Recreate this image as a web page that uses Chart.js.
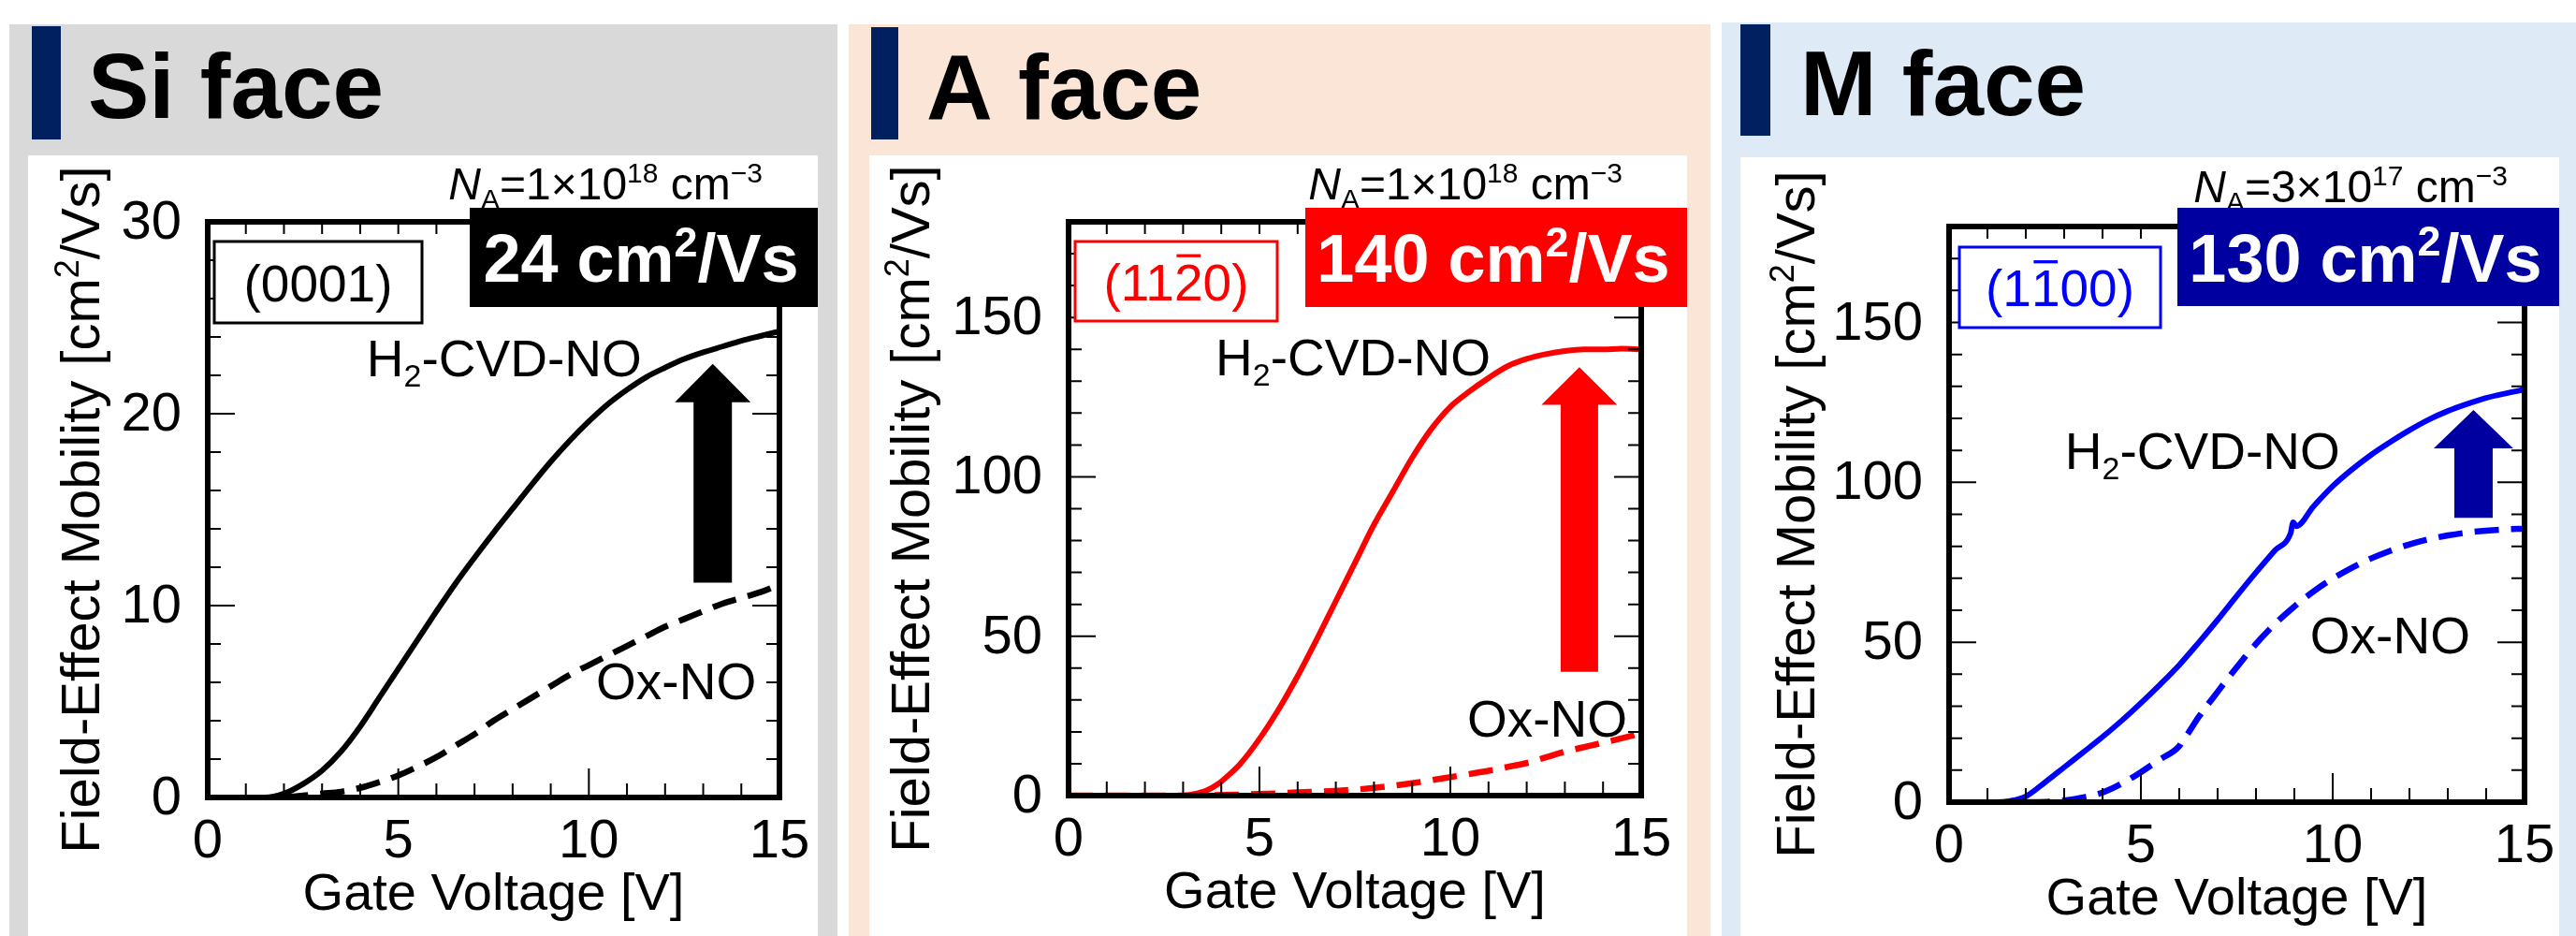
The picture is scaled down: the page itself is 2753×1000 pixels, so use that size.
<!DOCTYPE html>
<html>
<head>
<meta charset="utf-8">
<script src="https://cdn.jsdelivr.net/npm/chart.js@4.4.1/dist/chart.umd.min.js"></script>
<style>
  body { margin: 0; background: #ffffff; width: 2753px; height: 1000px; overflow: hidden; }
  canvas { position: absolute; top: 0; }
</style>
</head>
<body>
<canvas id="siChart" width="901" height="1000" style="left:0px"></canvas>
<canvas id="aChart" width="933" height="1000" style="left:901px"></canvas>
<canvas id="mChart" width="919" height="1000" style="left:1834px"></canvas>
<script>
// ---- data (gate voltage [V] / mobility [cm2/Vs]) ----
const siH2Vg = [0, 1.5, 2.0, 2.5, 3.0, 3.5, 4.0, 4.5, 5.0, 5.5, 6.0, 6.5, 7.0, 7.5, 8.0, 8.5, 9.0, 9.5, 10.0, 10.5, 11.0, 11.5, 12.0, 12.5, 13.0, 13.5, 14.0, 14.5, 15.0];
const siH2Mu = [0, 0, 0.2, 0.7, 1.4, 2.4, 3.7, 5.2, 6.7, 8.2, 9.7, 11.15, 12.5, 13.8, 15.05, 16.3, 17.5, 18.6, 19.6, 20.5, 21.25, 21.9, 22.4, 22.85, 23.2, 23.5, 23.8, 24.05, 24.3];
const siOxVg = [2.0, 2.5, 3.0, 3.5, 4.0, 4.5, 5.0, 5.5, 6.0, 6.5, 7.0, 7.5, 8.0, 8.5, 9.0, 9.5, 10.0, 10.5, 11.0, 11.5, 12.0, 12.5, 13.0, 13.5, 14.0, 14.5, 15.0];
const siOxMu = [0, 0.1, 0.2, 0.3, 0.5, 0.8, 1.15, 1.6, 2.1, 2.7, 3.3, 4.0, 4.6, 5.2, 5.8, 6.4, 6.9, 7.4, 7.9, 8.4, 8.9, 9.3, 9.7, 10.1, 10.4, 10.7, 11.1];

const aH2Vg = [0, 3.0, 3.3, 3.6, 3.9, 4.2, 4.5, 5.0, 5.5, 6.0, 6.5, 7.0, 7.5, 8.0, 8.5, 9.0, 9.5, 10.0, 10.5, 11.0, 11.5, 12.0, 12.5, 13.0, 13.5, 14.0, 14.5, 15.0];
const aH2Mu = [0, 0, 0.5, 1.5, 3.5, 6.5, 10.0, 17.8, 27.0, 37.5, 49.0, 61.0, 73.0, 85.0, 95.5, 106.0, 115.0, 122.0, 126.8, 131.0, 134.7, 137.0, 138.5, 139.5, 140.0, 140.0, 140.2, 140.0];
const aOxVg = [0, 3.0, 4.0, 5.0, 6.0, 7.0, 8.0, 9.0, 10.0, 10.5, 11.0, 11.5, 12.0, 12.5, 13.0, 13.5, 14.0, 14.5, 15.0];
const aOxMu = [0, 0, 0.2, 0.5, 1.0, 1.5, 2.4, 3.9, 5.8, 6.8, 7.8, 9.0, 10.2, 12.0, 13.8, 15.2, 16.6, 18.0, 19.5];

const mH2Vg = [0, 1.2, 1.6, 2.0, 2.5, 3.0, 3.5, 4.0, 4.5, 5.0, 5.5, 6.0, 6.5, 7.0, 7.5, 8.0, 8.5, 8.9, 8.97, 9.05, 9.5, 10.0, 10.5, 11.0, 11.5, 12.0, 12.5, 13.0, 13.5, 14.0, 14.5, 15.0];
const mH2Mu = [0, 0, 0.4, 1.8, 6.2, 10.9, 15.6, 20.4, 25.5, 31.0, 36.8, 42.9, 49.8, 57.0, 64.5, 71.8, 78.8, 84.0, 87.5, 86.3, 92.5, 98.8, 104.0, 108.6, 112.6, 116.3, 119.6, 122.3, 124.5, 126.4, 127.8, 129.0];
const mOxVg = [2.0, 2.5, 3.0, 3.5, 4.0, 4.5, 5.0, 5.5, 6.0, 6.1, 6.2, 6.5, 7.0, 7.5, 8.0, 8.5, 9.0, 9.5, 10.0, 10.5, 11.0, 11.5, 12.0, 12.5, 13.0, 13.5, 14.0, 14.5, 15.0];
const mOxMu = [0, 0.1, 0.5, 1.5, 3.0, 5.8, 9.4, 13.4, 17.5, 19.5, 21.0, 26.5, 34.5, 42.2, 49.5, 55.8, 61.2, 65.9, 69.9, 73.3, 76.2, 78.6, 80.6, 82.2, 83.4, 84.3, 84.9, 85.3, 85.5];

// ticks and labels
const xTicks = [0, 5, 10, 15];
const siYTicks = [0, 10, 20, 30];
const aYTicks = [0, 50, 100, 150];
const mYTicks = [0, 50, 100, 150];
const faceNames = ['Si face', 'A face', 'M face'];
const peakValues = ['24', '140', '130'];
const dopings = [['1', '18'], ['1', '18'], ['3', '17']];
const planes = [
  [{ t: '(0001)' }],
  [{ t: '(11' }, { t: '2', over: true }, { t: '0)' }],
  [{ t: '(1' }, { t: '1', over: true }, { t: '00)' }]
];

const FONT = '"Liberation Sans", Arial, Helvetica, sans-serif';

// layout of each panel, in page pixels (boxes) and data units (labels, arrows)
const panels = [
  {
    canvas: 'siChart', left: 0, width: 901,
    vg: [siH2Vg, siOxVg], mu: [siH2Mu, siOxMu], yTicks: siYTicks, yMax: 30, yMinor: 2,
    bg: '#d9d9d9', bgRect: [10, 26, 895, 1000], whiteRect: [30, 166, 874, 1000],
    barRect: [34, 28, 65, 149], headX: 94, headY: 126,
    plot: [222, 237, 833, 852], yTitleBase: 106,
    ink: '#000000', boxFill: '#000000',
    tagRect: [229, 258, 451, 345], resultRect: [502, 222, 874, 328],
    naRight: 815, naBase: 213,
    h2Label: [4.17, 21.95], oxLabel: [10.19, 5.12],
    arrow: { x: 13.25, y0: 11.2, y1: 20.6, y2: 22.6, shaft: 41, head: 81 }
  },
  {
    canvas: 'aChart', left: 901, width: 933,
    vg: [aH2Vg, aOxVg], mu: [aH2Mu, aOxMu], yTicks: aYTicks, yMax: 180, yMinor: 10,
    bg: '#fbe5d6', bgRect: [907, 26, 1828, 1000], whiteRect: [929, 166, 1803, 1000],
    barRect: [931, 29, 960, 149], headX: 990, headY: 127,
    plot: [1142, 237, 1754, 850], yTitleBase: 993,
    ink: '#ff0000', boxFill: '#ff0000',
    tagRect: [1149, 258, 1365, 343], resultRect: [1395, 222, 1803, 328],
    naRight: 1734, naBase: 213,
    h2Label: [3.85, 131.8], oxLabel: [10.44, 18.5],
    arrow: { x: 13.38, y0: 38.8, y1: 122.6, y2: 134.4, shaft: 40, head: 81 }
  },
  {
    canvas: 'mChart', left: 1834, width: 919,
    vg: [mH2Vg, mOxVg], mu: [mH2Mu, mOxMu], yTicks: mYTicks, yMax: 180, yMinor: 10,
    bg: '#deebf7', bgRect: [1840, 24, 2753, 1000], whiteRect: [1860, 168, 2735, 1000],
    barRect: [1860, 26, 1892, 145], headX: 1924, headY: 123,
    plot: [2083, 242, 2698, 857], yTitleBase: 1939,
    ink: '#0000ff', boxFill: '#0000a0',
    tagRect: [2094, 264, 2309, 350], resultRect: [2327, 222, 2735, 327],
    naRight: 2680, naBase: 216,
    h2Label: [3.02, 104.1], oxLabel: [9.41, 46.6],
    arrow: { x: 13.67, y0: 88.9, y1: 110.6, y2: 122.6, shaft: 41, head: 85 }
  }
];

function toPoints(xs, ys) {
  return xs.map((x, i) => ({ x: x, y: ys[i] }));
}

// draws text made of parts (sub/sup/italic/overline)
function drawRich(ctx, parts, x, y, size, color, align, bold) {
  const weight = bold ? 'bold ' : '';
  const segs = parts.map(p => {
    const s = (p.sub || p.sup) ? Math.round(size * 0.62) : size;
    const font = (p.it ? 'italic ' : '') + weight + s + 'px ' + FONT;
    ctx.font = font;
    return { p: p, font: font, w: ctx.measureText(p.t).width };
  });
  const total = segs.reduce((a, g) => a + g.w, 0);
  let cx = align === 'center' ? x - total / 2 : (align === 'right' ? x - total : x);
  ctx.fillStyle = color;
  ctx.strokeStyle = color;
  ctx.textAlign = 'left';
  ctx.textBaseline = 'alphabetic';
  segs.forEach(g => {
    ctx.font = g.font;
    const dy = g.p.sub ? size * 0.2 : (g.p.sup ? -size * 0.38 : 0);
    ctx.fillText(g.p.t, cx, y + dy);
    if (g.p.over) {
      ctx.lineWidth = Math.max(2, size * 0.06);
      ctx.beginPath();
      ctx.moveTo(cx + g.w * 0.08, y - size * 0.86);
      ctx.lineTo(cx + g.w * 0.92, y - size * 0.86);
      ctx.stroke();
    }
    cx += g.w;
  });
}

function makePanelPlugin(p, idx) {
  const L = v => v - p.left;

  return {
    id: 'panel' + idx,

    beforeDraw(chart) {
      const ctx = chart.ctx;
      ctx.save();
      ctx.fillStyle = p.bg;
      ctx.fillRect(L(p.bgRect[0]), p.bgRect[1], p.bgRect[2] - p.bgRect[0], p.bgRect[3] - p.bgRect[1]);
      ctx.fillStyle = '#ffffff';
      ctx.fillRect(L(p.whiteRect[0]), p.whiteRect[1], p.whiteRect[2] - p.whiteRect[0], p.whiteRect[3] - p.whiteRect[1]);
      ctx.fillStyle = '#002060';
      ctx.fillRect(L(p.barRect[0]), p.barRect[1], p.barRect[2] - p.barRect[0], p.barRect[3] - p.barRect[1]);
      drawRich(ctx, [{ t: faceNames[idx] }], L(p.headX), p.headY, 98, '#000000', 'left', true);
      ctx.restore();
    },

    afterDatasetsDraw(chart) {
      const ctx = chart.ctx;
      const xs = chart.scales.x;
      const ys = chart.scales.y;
      const area = chart.chartArea;
      ctx.save();

      // arrow
      const a = p.arrow;
      const ax = xs.getPixelForValue(a.x);
      const yb = ys.getPixelForValue(a.y0);
      const yh = ys.getPixelForValue(a.y1);
      const yt = ys.getPixelForValue(a.y2);
      ctx.fillStyle = p.boxFill;
      ctx.beginPath();
      ctx.moveTo(ax - a.shaft / 2, yb);
      ctx.lineTo(ax - a.shaft / 2, yh);
      ctx.lineTo(ax - a.head / 2, yh);
      ctx.lineTo(ax, yt);
      ctx.lineTo(ax + a.head / 2, yh);
      ctx.lineTo(ax + a.shaft / 2, yh);
      ctx.lineTo(ax + a.shaft / 2, yb);
      ctx.closePath();
      ctx.fill();

      // ticks on all four sides, pointing inwards
      ctx.strokeStyle = '#000000';
      ctx.lineWidth = 2;
      ctx.beginPath();
      for (let v = 1; v < 15; v++) {
        const px = xs.getPixelForValue(v);
        const major = v % 5 === 0;
        ctx.moveTo(px, area.bottom);
        ctx.lineTo(px, area.bottom - (major ? 31 : 15));
        ctx.moveTo(px, area.top);
        ctx.lineTo(px, area.top + 13);
      }
      for (let v = p.yMinor; v < p.yMax; v += p.yMinor) {
        const py = ys.getPixelForValue(v);
        const major = p.yTicks.indexOf(v) >= 0;
        const len = major ? 29 : 14;
        ctx.moveTo(area.left, py);
        ctx.lineTo(area.left + len, py);
        ctx.moveTo(area.right, py);
        ctx.lineTo(area.right - len, py);
      }
      ctx.stroke();

      // frame
      ctx.lineWidth = 6;
      ctx.lineJoin = 'miter';
      ctx.strokeRect(area.left, area.top, area.right - area.left, area.bottom - area.top);

      // tick labels
      ctx.fillStyle = '#000000';
      ctx.font = '58px ' + FONT;
      ctx.textBaseline = 'middle';
      ctx.textAlign = 'center';
      xTicks.forEach(v => ctx.fillText(String(v), xs.getPixelForValue(v), area.bottom + 48));
      ctx.textAlign = 'right';
      p.yTicks.forEach(v => ctx.fillText(String(v), area.left - 28, ys.getPixelForValue(v) + 2));

      // axis titles
      const cxPlot = (area.left + area.right) / 2;
      drawRich(ctx, [{ t: 'Gate Voltage [V]' }], cxPlot, area.bottom + 120, 56, '#000000', 'center');
      ctx.save();
      ctx.translate(L(p.yTitleBase), (area.top + area.bottom) / 2);
      ctx.rotate(-Math.PI / 2);
      drawRich(ctx, [{ t: 'Field-Effect Mobility [cm' }, { t: '2', sup: true }, { t: '/Vs]' }], 0, 0, 58, '#000000', 'center');
      ctx.restore();

      // curve labels
      drawRich(ctx, [{ t: 'H' }, { t: '2', sub: true }, { t: '-CVD-NO' }],
        xs.getPixelForValue(p.h2Label[0]), ys.getPixelForValue(p.h2Label[1]), 55, '#000000', 'left');
      drawRich(ctx, [{ t: 'Ox-NO' }],
        xs.getPixelForValue(p.oxLabel[0]), ys.getPixelForValue(p.oxLabel[1]), 55, '#000000', 'left');

      // doping
      drawRich(ctx, [{ t: 'N', it: true }, { t: 'A', sub: true }, { t: '=' + dopings[idx][0] + '\u00d710' },
        { t: dopings[idx][1], sup: true }, { t: ' cm' }, { t: '\u22123', sup: true }],
        L(p.naRight), p.naBase, 48, '#000000', 'right');

      // plane tag box
      const tr = p.tagRect;
      ctx.fillStyle = '#ffffff';
      ctx.fillRect(L(tr[0]), tr[1], tr[2] - tr[0], tr[3] - tr[1]);
      ctx.strokeStyle = p.ink;
      ctx.lineWidth = 3;
      ctx.strokeRect(L(tr[0]), tr[1], tr[2] - tr[0], tr[3] - tr[1]);
      drawRich(ctx, planes[idx], L((tr[0] + tr[2]) / 2), (tr[1] + tr[3]) / 2 + 20, 55, p.ink, 'center');

      // peak mobility box
      const rr = p.resultRect;
      ctx.fillStyle = p.boxFill;
      ctx.fillRect(L(rr[0]), rr[1], rr[2] - rr[0], rr[3] - rr[1]);
      drawRich(ctx, [{ t: peakValues[idx] + ' cm' }, { t: '2', sup: true }, { t: '/Vs' }],
        L((rr[0] + rr[2]) / 2) - 3, (rr[1] + rr[3]) / 2 + 26, 72, '#ffffff', 'center', true);

      ctx.restore();
    }
  };
}

panels.forEach((p, idx) => {
  new Chart(
    document.getElementById(p.canvas),
    {
      type: 'line',
      data: {
        datasets: [
          {
            label: 'H2-CVD-NO',
            data: toPoints(p.vg[0], p.mu[0]),
            borderColor: p.ink,
            borderWidth: 6
          },
          {
            label: 'Ox-NO',
            data: toPoints(p.vg[1], p.mu[1]),
            borderColor: p.ink,
            borderWidth: 6.5,
            borderDash: [26, 13]
          }
        ]
      },
      options: {
        responsive: false,
        animation: false,
        devicePixelRatio: 1,
        layout: {
          padding: {
            left: p.plot[0] - p.left,
            top: p.plot[1],
            right: p.left + p.width - p.plot[2],
            bottom: 1000 - p.plot[3]
          }
        },
        elements: {
          point: { radius: 0 },
          line: { cubicInterpolationMode: 'monotone', borderCapStyle: 'butt' }
        },
        plugins: {
          legend: { display: false },
          tooltip: { enabled: false }
        },
        scales: {
          x: { type: 'linear', min: 0, max: 15, display: false },
          y: { type: 'linear', min: 0, max: p.yMax, display: false }
        }
      },
      plugins: [makePanelPlugin(p, idx)]
    }
  );
});
</script>
</body>
</html>
